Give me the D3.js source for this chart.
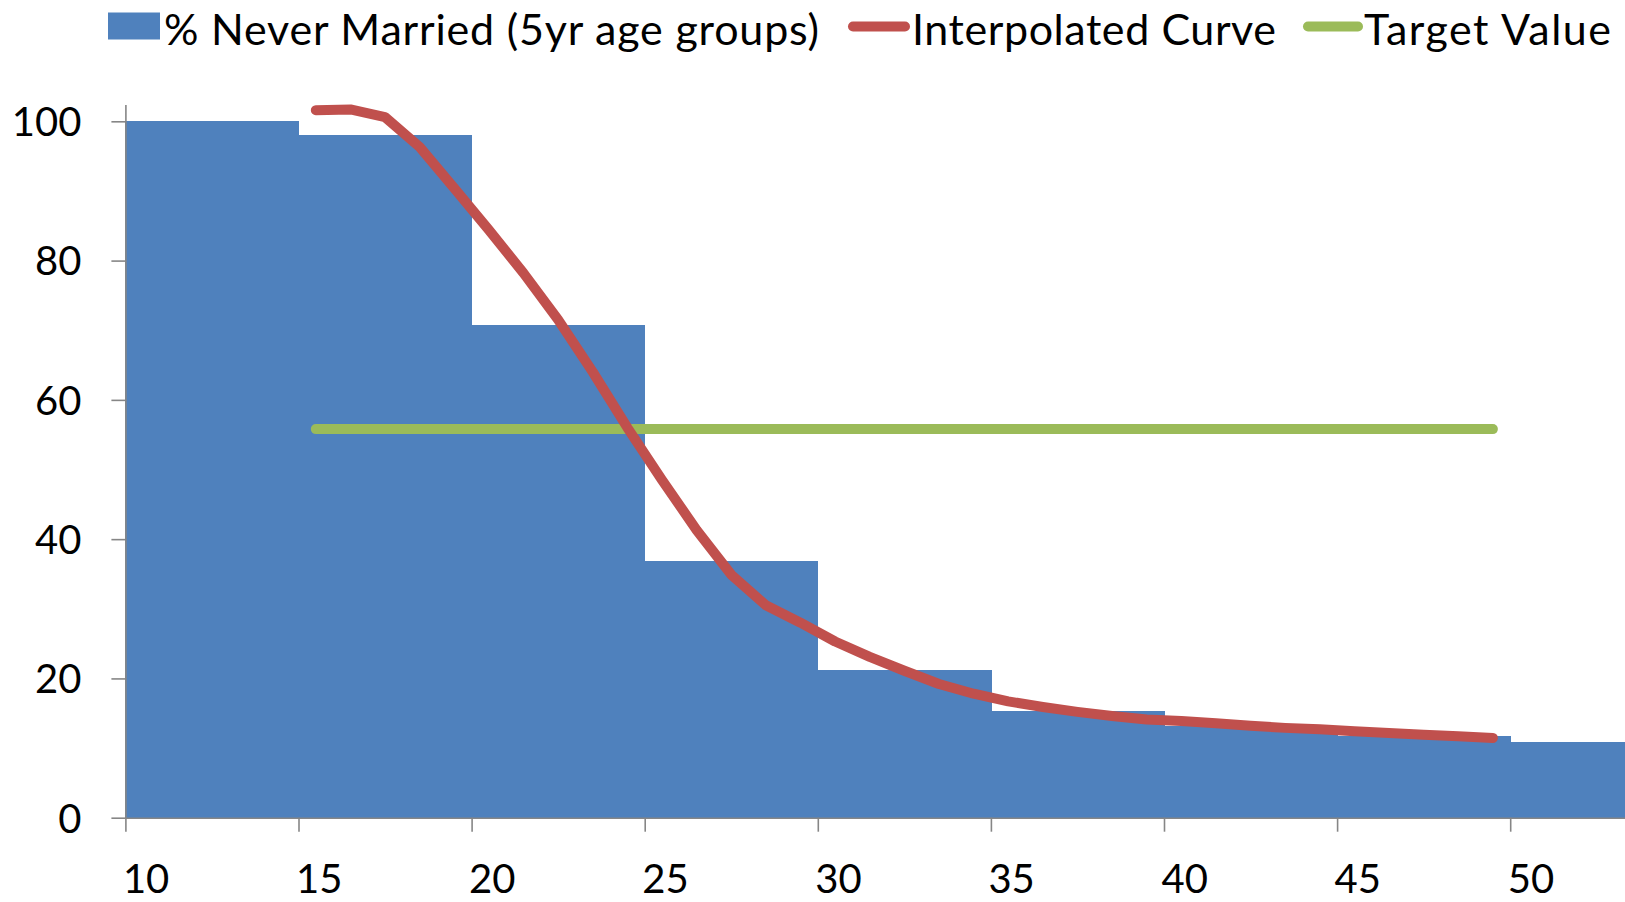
<!DOCTYPE html>
<html>
<head>
<meta charset="utf-8">
<script src="https://cdn.jsdelivr.net/npm/d3@7"></script>
<style>
  body { margin: 0; background: #fff; }
  svg { display: block; font-family: Lato, "Open Sans", sans-serif; }
  .axis path, .axis line { stroke: #868686; stroke-width: 1.6; }
  .axis text { fill: #000; font-family: Lato, "Open Sans", sans-serif; }
  .bar { shape-rendering: crispEdges; }
  .legend text { font-size: 43px; }
</style>
</head>
<body>
<svg width="1625" height="902"></svg>
<script>
// 5-year age groups (start of group) and % never married
var groupStarts = [10, 15, 20, 25, 30, 35, 40, 45, 50];
var groupValues = [100, 98.1, 70.8, 36.8, 21.2, 15.3, 13.2, 11.8, 10.9];

// single-year interpolated curve (mid-year ages)
var curveAges = [15.5, 16.5, 17.5, 18.5, 19.5, 20.5, 21.5, 22.5, 23.5, 24.5,
  25.5, 26.5, 27.5, 28.5, 29.5, 30.5, 31.5, 32.5, 33.5, 34.5,
  35.5, 36.5, 37.5, 38.5, 39.5, 40.5, 41.5, 42.5, 43.5, 44.5,
  45.5, 46.5, 47.5, 48.5, 49.5];
var curveValues = [101.6, 101.7, 100.6, 96.3, 90.4, 84.4, 78.2, 71.5, 64.0, 56.0,
  48.5, 41.3, 34.9, 30.5, 28.0, 25.3, 23.1, 21.1, 19.2, 17.8,
  16.7, 15.9, 15.2, 14.6, 14.1, 13.9, 13.55, 13.2, 12.9, 12.7,
  12.4, 12.15, 11.9, 11.7, 11.45];

var targetValue = 55.8;

var xTicks = [10, 15, 20, 25, 30, 35, 40, 45, 50];
var yTicks = [0, 20, 40, 60, 80, 100];

var legendLabels = ["% Never Married (5yr age groups)", "Interpolated Curve", "Target Value"];

var blue = "#4F81BD", red = "#C0504D", green = "#9BBB59";

var svg = d3.select("svg");

// scales
var x = d3.scaleLinear().domain([10, 55]).range([125.4, 1683.3]);
var y = d3.scaleLinear().domain([0, 102.4]).range([817.7, 104.6]);

var chart = svg.append("g");

// step bars
chart.selectAll(".bar")
  .data(groupStarts)
  .enter().append("rect")
  .attr("class", "bar")
  .attr("x", function (d) { return x(d); })
  .attr("width", function (d) { return x(d + 5) - x(d) + 0.6; })
  .attr("y", function (d, i) { return y(groupValues[i]); })
  .attr("height", function (d, i) { return y(0) - y(groupValues[i]); })
  .attr("fill", blue);

// axes
var yAxis = chart.append("g")
  .attr("class", "axis")
  .attr("transform", "translate(" + x(10) + ",0)")
  .call(d3.axisLeft(y).tickValues(yTicks).tickSize(14).tickSizeOuter(0).tickPadding(30));
yAxis.selectAll("text").style("font-size", "40px").attr("dy", "0.36em");

var xAxis = chart.append("g")
  .attr("class", "axis")
  .attr("transform", "translate(0," + y(0) + ")")
  .call(d3.axisBottom(x).tickValues(xTicks).tickSize(14).tickSizeOuter(0));
xAxis.selectAll("text")
  .style("font-size", "40px")
  .attr("text-anchor", "start")
  .attr("x", -3)
  .attr("y", 0)
  .attr("dy", 0)
  .attr("transform", "translate(0,75)");

// target value line
chart.append("line")
  .attr("x1", x(curveAges[0]))
  .attr("x2", x(curveAges[curveAges.length - 1]))
  .attr("y1", y(targetValue))
  .attr("y2", y(targetValue))
  .attr("stroke", green)
  .attr("stroke-width", 10)
  .attr("stroke-linecap", "round");

// interpolated curve
var line = d3.line()
  .x(function (d, i) { return x(curveAges[i]); })
  .y(function (d) { return y(d); });

chart.append("path")
  .datum(curveValues)
  .attr("d", line)
  .attr("fill", "none")
  .attr("stroke", red)
  .attr("stroke-width", 10)
  .attr("stroke-linecap", "round")
  .attr("stroke-linejoin", "round");

// legend (widths taken from the original, spacing stretched to fit)
var legend = svg.append("g").attr("class", "legend");
var legendY = 45;

legend.append("rect")
  .attr("x", 108).attr("y", 12.5)
  .attr("width", 52).attr("height", 27)
  .attr("fill", blue);
legend.append("text")
  .attr("x", 164).attr("y", legendY)
  .attr("textLength", 655).attr("lengthAdjust", "spacing")
  .text(legendLabels[0]);

legend.append("line")
  .attr("x1", 853).attr("x2", 905)
  .attr("y1", 26.5).attr("y2", 26.5)
  .attr("stroke", red).attr("stroke-width", 10).attr("stroke-linecap", "round");
legend.append("text")
  .attr("x", 912).attr("y", legendY)
  .attr("textLength", 364).attr("lengthAdjust", "spacing")
  .text(legendLabels[1]);

legend.append("line")
  .attr("x1", 1308).attr("x2", 1358)
  .attr("y1", 26.5).attr("y2", 26.5)
  .attr("stroke", green).attr("stroke-width", 10).attr("stroke-linecap", "round");
legend.append("text")
  .attr("x", 1364).attr("y", legendY)
  .attr("textLength", 247).attr("lengthAdjust", "spacing")
  .text(legendLabels[2]);
</script>
</body>
</html>
